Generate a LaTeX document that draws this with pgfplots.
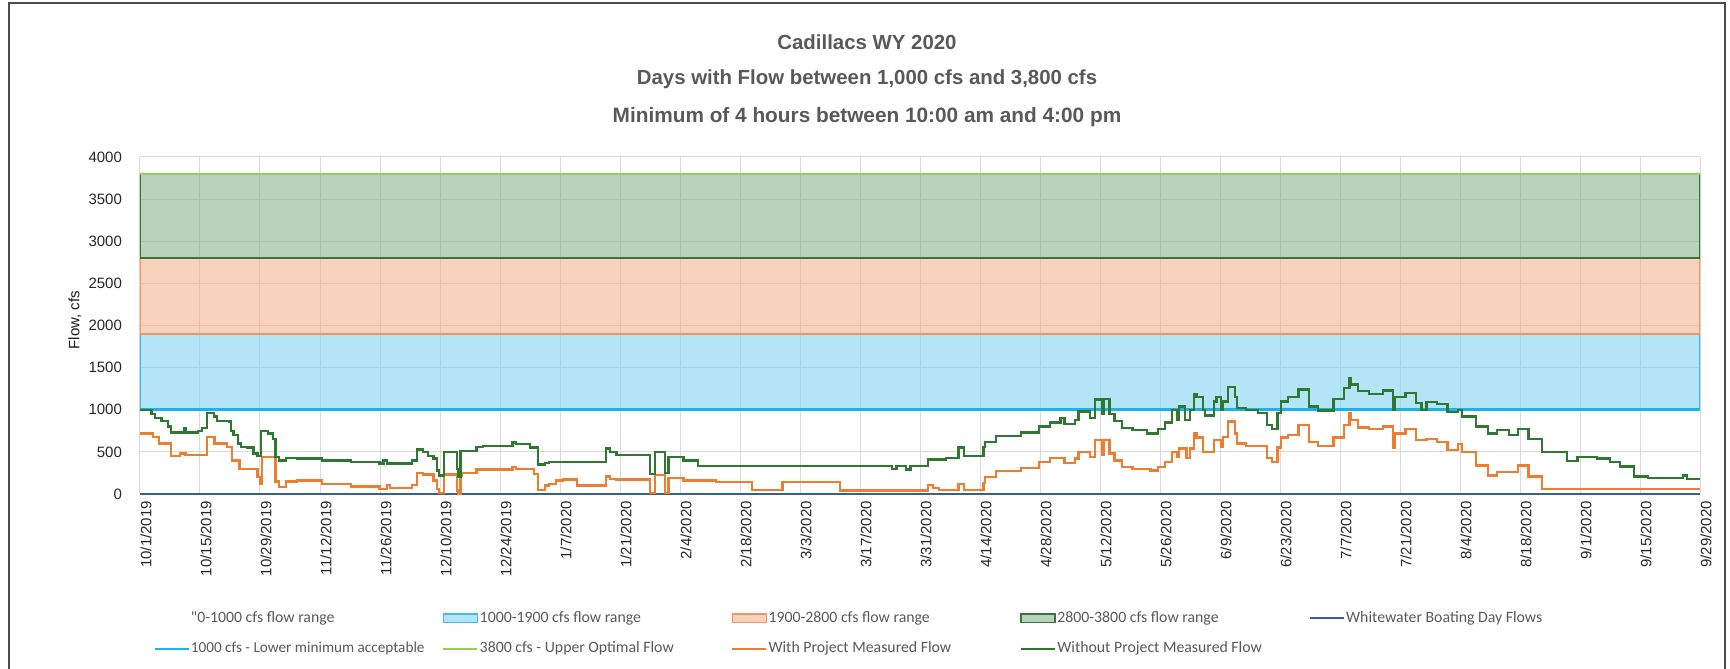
\documentclass[border=0pt]{standalone}
\usepackage{fontspec}
\setmainfont{Liberation Sans}
\newfontfamily\legfont{Carlito}
\usepackage{pgfplots}
\pgfplotsset{compat=1.18}

\definecolor{titlegray}{RGB}{89,89,89}
\definecolor{withproj}{RGB}{237,125,49}
\definecolor{withoutproj}{RGB}{46,120,50}
\definecolor{lowline}{RGB}{30,178,232}
\definecolor{upline}{RGB}{146,208,80}
\definecolor{boatline}{RGB}{52,98,140}
\definecolor{gridgray}{RGB}{217,217,217}
\definecolor{bandblue}{RGB}{128,212,242}
\definecolor{bandpeach}{RGB}{243,180,143}
\definecolor{bandgreen}{RGB}{138,180,143}
\definecolor{edgeblue}{RGB}{70,185,230}
\definecolor{edgepeach}{RGB}{240,150,100}
\definecolor{edgegreen}{RGB}{56,118,60}

% days after 10/1/2019, cfs
\pgfplotstableread{
day flow
0 1000
2.7 950
3.5 900
5 870
6.5 800
7.3 730
10.2 780
10.8 730
13.5 750
14.5 780
15.7 960
17.2 920
18 870
20.8 860
21.2 750
21.8 700
22.8 600
23.5 560
25 550
26.5 480
27.4 450
28.3 750
29.8 720
31 650
31.6 440
32.4 400
34.1 430
36.6 420
42.5 400
49.2 380
55.9 360
56.8 400
57.6 360
63.5 400
64.7 530
66 500
67.2 450
68.5 420
69.3 280
69.7 220
71 500
73.9 300
74.3 200
74.8 510
78.5 560
80 570
86.9 610
87.8 590
91 550
92.8 350
94.5 370
95.4 380
108.7 540
109.6 500
111.2 460
119 240
120.1 500
122.5 250
123.3 440
126.8 400
130.2 335
175.5 300
176.5 335
178.8 290
179.8 335
183.8 410
188 430
191 550
192.2 450
196.8 560
197.2 620
199.8 690
205.6 730
209.8 800
212.3 850
214.8 900
215.7 830
218.2 880
219 980
221.6 900
222.8 1120
224.5 950
224.9 1130
226.2 950
227.4 870
229.1 780
231.6 760
235 720
237.5 770
239.2 850
240.8 1000
242.1 880
242.5 1040
243.8 880
245 1000
245.9 1180
246.5 1150
248.1 1000
248.5 930
250.6 1100
251.2 1150
252.2 1000
252.7 1100
253.9 1270
255.5 1150
255.9 1020
258 1000
260.9 960
262.9 820
264.1 770
265.4 960
266.2 1100
267.8 1150
270.3 1240
272.7 1040
274.8 990
278.5 1130
280.9 1260
282.2 1380
282.6 1300
284.2 1220
286.7 1190
290 1230
292.4 1000
292.8 1150
295.3 1200
297.7 1080
299 1000
300.2 1090
302.7 1070
305.1 970
307.6 1000
308.4 920
311.7 800
314.5 720
316.6 760
319.5 700
321.5 770
324 650
327.2 500
333 390
335.4 440
340 420
343 380
345.3 325
348.6 210
351.8 190
360 220
360.9 180
364 180
}\withouttable

\pgfplotstableread{
day flow
0 720
3.1 680
4.4 600
7.3 450
9.4 480
10.6 460
15.7 680
17.4 600
20.3 560
21.5 400
23.2 300
27.4 200
28 120
28.4 440
31.6 150
32.4 80
34.1 150
36.6 160
42.5 120
49.2 90
55.9 60
57.6 110
58.4 70
63.5 110
64.7 250
66 230
68.5 160
69.3 60
69.7 10
71 230
73.9 40
74.3 0
74.8 220
75.2 250
78.5 290
86.9 320
87.8 300
92 240
92.8 50
94.5 100
95.4 120
97 160
98.7 170
102 100
108.7 210
109.6 180
111.2 170
119 10
120.1 226
122.5 10
123.3 190
126.8 160
134.4 140
142.8 50
149.9 140
163.3 40
183.8 110
185 70
186.4 50
191 120
192.2 50
196.8 130
197.2 200
199.8 270
205.6 310
209.8 380
212.3 430
215.7 370
218.2 420
219 500
221.6 440
222.8 640
224.5 470
224.9 640
226.2 480
227.4 400
229.1 320
231.6 300
235.8 280
237.5 320
239.2 380
240.8 500
242.1 440
242.5 540
244.2 430
245 540
245.9 720
246.5 670
248.1 500
250.6 640
252.2 560
252.7 680
253.9 860
255.5 720
255.9 600
258 570
262.9 430
264.1 380
265.4 550
266.2 670
267.8 700
270.3 820
272.7 620
274.8 570
278.5 670
280.9 820
282.2 960
282.6 880
284.2 790
286.7 770
290 800
292.4 550
292.8 720
295.3 770
297.7 640
300.2 650
302.7 620
305.1 520
307.6 590
308.4 500
311.7 340
314.5 220
316.6 260
321.5 340
324 210
327.2 60
364 60
}\withtable

\begin{document}
\begin{tikzpicture}
\path[use as bounding box] (-70pt,-87.5pt) rectangle (795pt,247pt);
\draw[black!70, line width=0.6pt] (-65.5pt,-95pt) -- (-65.5pt,245.5pt) -- (792.5pt,245.5pt) -- (792.5pt,-95pt);
\begin{axis}[
    at={(0pt,0pt)}, anchor=south west,
    scale only axis, width=780pt, height=168.5pt,
    xmin=0, xmax=364, ymin=0, ymax=4000,
    xtick={0,14,...,364},
    xticklabels={10/1/2019,10/15/2019,10/29/2019,11/12/2019,11/26/2019,12/10/2019,12/24/2019,1/7/2020,1/21/2020,2/4/2020,2/18/2020,3/3/2020,3/17/2020,3/31/2020,4/14/2020,4/28/2020,5/12/2020,5/26/2020,6/9/2020,6/23/2020,7/7/2020,7/21/2020,8/4/2020,8/18/2020,9/1/2020,9/15/2020,9/29/2020},
    ytick={0,500,...,4000},
    /pgf/number format/assume math mode=true,
    /pgf/number format/1000 sep={},
    grid=major, major grid style={gridgray, line width=0.5pt},
    major tick length=0pt,
    axis line style={draw=none},
    tick label style={font=\fontsize{7.5}{9}\selectfont, text=black!85},
    x tick label style={rotate=90, anchor=east, yshift=-3pt},
    y tick label style={anchor=east, xshift=-5.5pt},
    every axis y label/.style={at={(axis description cs:-0.0417,0.516)}, rotate=90, anchor=center, font=\fontsize{7.5}{9}\selectfont, text=black!90},
    ylabel={Flow, cfs},
    legend columns=5,
    legend cell align=left,
    legend style={at={(axis description cs:0.0083,-0.343)}, anchor=north west,
      draw=none, fill=none, inner sep=0pt, row sep=7.2pt, column sep=0pt,
      font=\legfont\fontsize{7.9}{9.5}\selectfont, text=titlegray,
      nodes={inner sep=0.6pt}},
]
% flow ranges
\addplot[forget plot, fill=bandblue, fill opacity=0.6, draw=edgeblue, line width=0.8pt]
  coordinates {(0,1000) (364,1000) (364,1900) (0,1900)} -- cycle;
\addplot[forget plot, fill=bandpeach, fill opacity=0.6, draw=edgepeach, line width=0.6pt]
  coordinates {(0,1900) (364,1900) (364,2800) (0,2800)} -- cycle;
\addplot[forget plot, fill=bandgreen, fill opacity=0.6, draw=edgegreen, line width=0.6pt]
  coordinates {(0,2800) (364,2800) (364,3800) (0,3800)} -- cycle;
% reference lines
\addplot[forget plot, boatline, line width=1.2pt] coordinates {(0,0) (364,0)};
\addplot[forget plot, lowline, line width=1.5pt] coordinates {(0,1000) (364,1000)};
\addplot[forget plot, upline, line width=1.1pt] coordinates {(0,3800) (364,3800)};
% measured flows
\addplot[forget plot, const plot, withproj, line width=1.2pt] table[x=day, y=flow] {\withtable};
\addplot[forget plot, const plot, withoutproj, line width=1.2pt] table[x=day, y=flow] {\withouttable};

% legend
\addlegendimage{legend image code/.code={\path[draw=none, fill=none] (0pt,-2.1pt) rectangle (17pt,2.1pt);}}
\addlegendentry{\makebox[125pt][l]{"0-1000 cfs flow range}}
\addlegendimage{legend image code/.code={\draw[fill=bandblue, fill opacity=0.6, draw=edgeblue, line width=0.8pt] (0pt,-2.1pt) rectangle (17pt,2.1pt);}}
\addlegendentry{\makebox[125pt][l]{1000-1900 cfs flow range}}
\addlegendimage{legend image code/.code={\draw[fill=bandpeach, fill opacity=0.6, draw=edgepeach, line width=0.6pt] (0pt,-2.1pt) rectangle (17pt,2.1pt);}}
\addlegendentry{\makebox[125pt][l]{1900-2800 cfs flow range}}
\addlegendimage{legend image code/.code={\draw[fill=bandgreen, fill opacity=0.6, draw=edgegreen, line width=0.6pt] (0pt,-2.1pt) rectangle (17pt,2.1pt);}}
\addlegendentry{\makebox[125pt][l]{2800-3800 cfs flow range}}
\addlegendimage{legend image code/.code={\draw[boatline, line width=1.2pt] (0pt,0pt) -- (17pt,0pt);}}
\addlegendentry{\makebox[125pt][l]{Whitewater Boating Day Flows}}
\addlegendimage{legend image code/.code={\draw[lowline, line width=1.2pt] (0pt,0pt) -- (17pt,0pt);}}
\addlegendentry{\makebox[125pt][l]{\fontsize{7.6}{9.5}\selectfont 1000 cfs - Lower minimum acceptable}}
\addlegendimage{legend image code/.code={\draw[upline, line width=1.2pt] (0pt,0pt) -- (17pt,0pt);}}
\addlegendentry{\makebox[125pt][l]{3800 cfs - Upper Optimal Flow}}
\addlegendimage{legend image code/.code={\draw[withproj, line width=1.2pt] (0pt,0pt) -- (17pt,0pt);}}
\addlegendentry{\makebox[125pt][l]{With Project Measured Flow}}
\addlegendimage{legend image code/.code={\draw[withoutproj, line width=1.2pt] (0pt,0pt) -- (17pt,0pt);}}
\addlegendentry{\makebox[125pt][l]{Without Project Measured Flow}}
\end{axis}
\node[font=\bfseries\fontsize{10.2}{12}\selectfont, text=titlegray] at (363.5pt,226pt) {Cadillacs WY 2020};
\node[font=\bfseries\fontsize{10.2}{12}\selectfont, text=titlegray] at (363.5pt,207.5pt) {Days with Flow between 1,000 cfs and 3,800 cfs};
\node[font=\bfseries\fontsize{10.4}{12}\selectfont, text=titlegray] at (363.5pt,188.5pt) {Minimum of 4 hours between 10:00 am and 4:00 pm};
\end{tikzpicture}
\end{document}
